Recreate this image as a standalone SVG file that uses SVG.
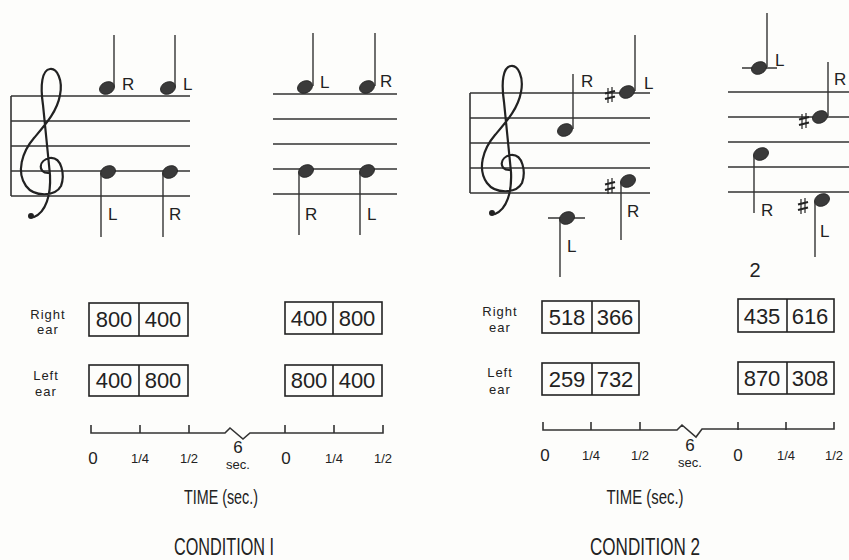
<svg xmlns="http://www.w3.org/2000/svg" xmlns:xlink="http://www.w3.org/1999/xlink" width="849" height="560" viewBox="0 0 849 560">
<style>
.bg{fill:#fdfdfb}
.ln{stroke:#333;stroke-width:1.6;fill:none}
.stem{stroke:#333;stroke-width:1.4;fill:none}
.head{fill:#3a3a3a;stroke:#222;stroke-width:0.8}
.clef{stroke:#222;stroke-width:2.2;fill:none;stroke-linecap:round}
.box{fill:none;stroke:#222;stroke-width:1.6}
.t{font-family:"Liberation Sans","DejaVu Sans",sans-serif;fill:#222}
.lab{font-size:17px}
.num{font-size:22px;text-anchor:middle}
.ear{font-size:13px;text-anchor:middle;letter-spacing:1px}
.tk0{font-size:17px;text-anchor:middle}
.tkf{font-size:13px;text-anchor:middle}
.ttl{font-size:20px;text-anchor:middle}
.cnd{font-size:23px;text-anchor:middle}
</style>
<defs>
<g id="note"><ellipse cx="0" cy="0" rx="7.8" ry="6" transform="rotate(-25)" class="head"/></g>
<g id="sharp" stroke="#222" fill="none">
<line x1="-2" y1="-7" x2="-2" y2="8" stroke-width="1.2"/>
<line x1="2" y1="-8" x2="2" y2="7" stroke-width="1.2"/>
<line x1="-5" y1="-1.5" x2="5" y2="-4" stroke-width="2"/>
<line x1="-5" y1="4" x2="5" y2="1.5" stroke-width="2"/>
</g>
<path id="clefpath" d="M 48 173 C 38 173, 38 160, 50 158 C 62 157, 65 175, 61 186 C 55 197, 34 197, 26 186 C 16 172, 22 152, 34 138 C 45 125, 57 112, 60 95 C 63 80, 57 68, 50 69 C 42 70, 40 85, 43 105 L 50 175 C 51 195, 46 212, 34 217"/>
</defs>
<rect class="bg" x="0" y="0" width="849" height="560"/>

<g id="staff1a">
<path class="ln" d="M11 96 H190 M11 121 H190 M11 146 H190 M11 171 H190 M11 196 H190 M11 96 V196"/>
<use xlink:href="#clefpath" class="clef"/>
<circle cx="31" cy="216" r="3" fill="#222"/>
</g>
<g id="note1a1"><use xlink:href="#note" x="107" y="88"/><line class="stem" x1="114" y1="35" x2="114" y2="87"/><text class="t lab" x="122" y="90">R</text></g>
<g id="note1a2"><use xlink:href="#note" x="168" y="88"/><line class="stem" x1="175" y1="35" x2="175" y2="87"/><text class="t lab" x="183" y="90">L</text></g>
<g id="note1a3"><use xlink:href="#note" x="108" y="172"/><line class="stem" x1="101" y1="173" x2="101" y2="237"/><text class="t lab" x="108" y="220">L</text></g>
<g id="note1a4"><use xlink:href="#note" x="170" y="172"/><line class="stem" x1="163" y1="173" x2="163" y2="237"/><text class="t lab" x="169" y="220">R</text></g>

<g id="staff1b">
<path class="ln" d="M273 94 H397 M273 119 H397 M273 144 H397 M273 169 H397 M273 194 H397"/>
</g>
<g id="note1b1"><use xlink:href="#note" x="305" y="87"/><line class="stem" x1="313" y1="33" x2="313" y2="86"/><text class="t lab" x="320" y="88">L</text></g>
<g id="note1b2"><use xlink:href="#note" x="367" y="87"/><line class="stem" x1="375" y1="33" x2="375" y2="86"/><text class="t lab" x="380" y="87">R</text></g>
<g id="note1b3"><use xlink:href="#note" x="306" y="171"/><line class="stem" x1="299" y1="172" x2="299" y2="235"/><text class="t lab" x="305" y="220">R</text></g>
<g id="note1b4"><use xlink:href="#note" x="367" y="171"/><line class="stem" x1="360" y1="172" x2="360" y2="235"/><text class="t lab" x="367" y="220">L</text></g>

<g id="staff2a">
<path class="ln" d="M470 93 H650 M470 118 H650 M470 143 H650 M470 168 H650 M470 193 H650 M470 93 V193"/>
<use xlink:href="#clefpath" class="clef" transform="translate(461,-3)"/>
<circle cx="492" cy="213" r="3" fill="#222"/>
</g>
<g id="note2a1"><use xlink:href="#note" x="565" y="130"/><line class="stem" x1="573" y1="74" x2="573" y2="129"/><text class="t lab" x="581" y="87">R</text></g>
<g id="note2a2"><use xlink:href="#sharp" x="610" y="95"/><use xlink:href="#note" x="627" y="92"/><line class="stem" x1="635" y1="35" x2="635" y2="91"/><text class="t lab" x="644" y="89">L</text></g>
<g id="note2a3"><use xlink:href="#sharp" x="610" y="186"/><use xlink:href="#note" x="628" y="181"/><line class="stem" x1="621" y1="182" x2="621" y2="240"/><text class="t lab" x="627" y="217">R</text></g>
<g id="note2a4"><line class="ln" x1="548" y1="218" x2="585" y2="218"/><use xlink:href="#note" x="567" y="218"/><line class="stem" x1="560" y1="219" x2="560" y2="277"/><text class="t lab" x="567" y="252">L</text></g>

<g id="staff2b">
<path class="ln" d="M728 92 H849 M728 117 H849 M728 142 H849 M728 167 H849 M728 192 H849"/>
</g>
<g id="note2b1"><line class="ln" x1="742" y1="68" x2="777" y2="68"/><use xlink:href="#note" x="759" y="68"/><line class="stem" x1="767" y1="13" x2="767" y2="67"/><text class="t lab" x="775" y="66">L</text></g>
<g id="note2b2"><use xlink:href="#sharp" x="804" y="121"/><use xlink:href="#note" x="820" y="117"/><line class="stem" x1="828" y1="62" x2="828" y2="116"/><text class="t lab" x="834" y="85">R</text></g>
<g id="note2b3"><use xlink:href="#note" x="761" y="154"/><line class="stem" x1="754" y1="155" x2="754" y2="213"/><text class="t lab" x="761" y="216">R</text></g>
<g id="note2b4"><use xlink:href="#sharp" x="803" y="206"/><use xlink:href="#note" x="822" y="200"/><line class="stem" x1="815" y1="201" x2="815" y2="257"/><text class="t lab" x="820" y="237">L</text></g>
<text class="t" x="755" y="277" font-size="20" text-anchor="middle">2</text>

<g id="ears1">
<text class="t ear" x="48" y="319">Right</text>
<text class="t ear" x="48" y="334">ear</text>
<text class="t ear" x="46" y="380">Left</text>
<text class="t ear" x="46" y="396">ear</text>
</g>
<g id="box1r1"><rect class="box" x="89" y="303" width="99" height="33"/><line class="box" x1="139" y1="303" x2="139" y2="336"/><text class="t num" x="114" y="327">800</text><text class="t num" x="163" y="327">400</text></g>
<g id="box1r2"><rect class="box" x="285" y="302" width="97" height="32"/><line class="box" x1="333" y1="302" x2="333" y2="334"/><text class="t num" x="309" y="326">400</text><text class="t num" x="357" y="326">800</text></g>
<g id="box1l1"><rect class="box" x="89" y="365" width="99" height="31"/><line class="box" x1="139" y1="365" x2="139" y2="396"/><text class="t num" x="114" y="388">400</text><text class="t num" x="163" y="388">800</text></g>
<g id="box1l2"><rect class="box" x="285" y="365" width="97" height="31"/><line class="box" x1="333" y1="365" x2="333" y2="396"/><text class="t num" x="309" y="388">800</text><text class="t num" x="357" y="388">400</text></g>

<g id="ears2">
<text class="t ear" x="500" y="316">Right</text>
<text class="t ear" x="500" y="332">ear</text>
<text class="t ear" x="500" y="377">Left</text>
<text class="t ear" x="500" y="394">ear</text>
</g>
<g id="box2r1"><rect class="box" x="542" y="301" width="97" height="32"/><line class="box" x1="592" y1="301" x2="592" y2="333"/><text class="t num" x="567" y="325">518</text><text class="t num" x="615" y="325">366</text></g>
<g id="box2r2"><rect class="box" x="738" y="299" width="96" height="33"/><line class="box" x1="787" y1="299" x2="787" y2="332"/><text class="t num" x="762" y="324">435</text><text class="t num" x="810" y="324">616</text></g>
<g id="box2l1"><rect class="box" x="542" y="363" width="97" height="32"/><line class="box" x1="592" y1="363" x2="592" y2="395"/><text class="t num" x="567" y="387">259</text><text class="t num" x="615" y="387">732</text></g>
<g id="box2l2"><rect class="box" x="738" y="362" width="96" height="32"/><line class="box" x1="787" y1="362" x2="787" y2="394"/><text class="t num" x="762" y="386">870</text><text class="t num" x="810" y="386">308</text></g>

<g id="axis1">
<path class="ln" d="M91 425 V433 H225 L230 428 L243 439 L250 433 H383 V425 M140 425 V433 M189 425 V433 M285 425 V433 M334 425 V433"/>
<text class="t tk0" x="93" y="464">0</text>
<text class="t tkf" x="140" y="463">1/4</text>
<text class="t tkf" x="189" y="463">1/2</text>
<text class="t tk0" x="238" y="453" font-size="15">6</text>
<text class="t tkf" x="238" y="469" font-size="12">sec.</text>
<text class="t tk0" x="286" y="464">0</text>
<text class="t tkf" x="334" y="463">1/4</text>
<text class="t tkf" x="383" y="463">1/2</text>
<text class="t ttl" x="221" y="504" textLength="74" lengthAdjust="spacingAndGlyphs">TIME (sec.)</text>
<text class="t cnd" x="224" y="555" textLength="100" lengthAdjust="spacingAndGlyphs">CONDITION I</text>
</g>

<g id="axis2">
<path class="ln" d="M543 422 V430 H677 L682 425 L696 437 L702 429 H834 V422 M591 422 V430 M640 422 V430 M738 422 V430 M786 422 V430"/>
<text class="t tk0" x="545" y="461">0</text>
<text class="t tkf" x="591" y="460">1/4</text>
<text class="t tkf" x="640" y="460">1/2</text>
<text class="t tk0" x="690" y="451" font-size="15">6</text>
<text class="t tkf" x="690" y="467" font-size="12">sec.</text>
<text class="t tk0" x="738" y="461">0</text>
<text class="t tkf" x="786" y="460">1/4</text>
<text class="t tkf" x="834" y="460">1/2</text>
<text class="t ttl" x="645" y="504" textLength="77" lengthAdjust="spacingAndGlyphs">TIME (sec.)</text>
<text class="t cnd" x="645" y="555" textLength="110" lengthAdjust="spacingAndGlyphs">CONDITION 2</text>
</g>
</svg>
